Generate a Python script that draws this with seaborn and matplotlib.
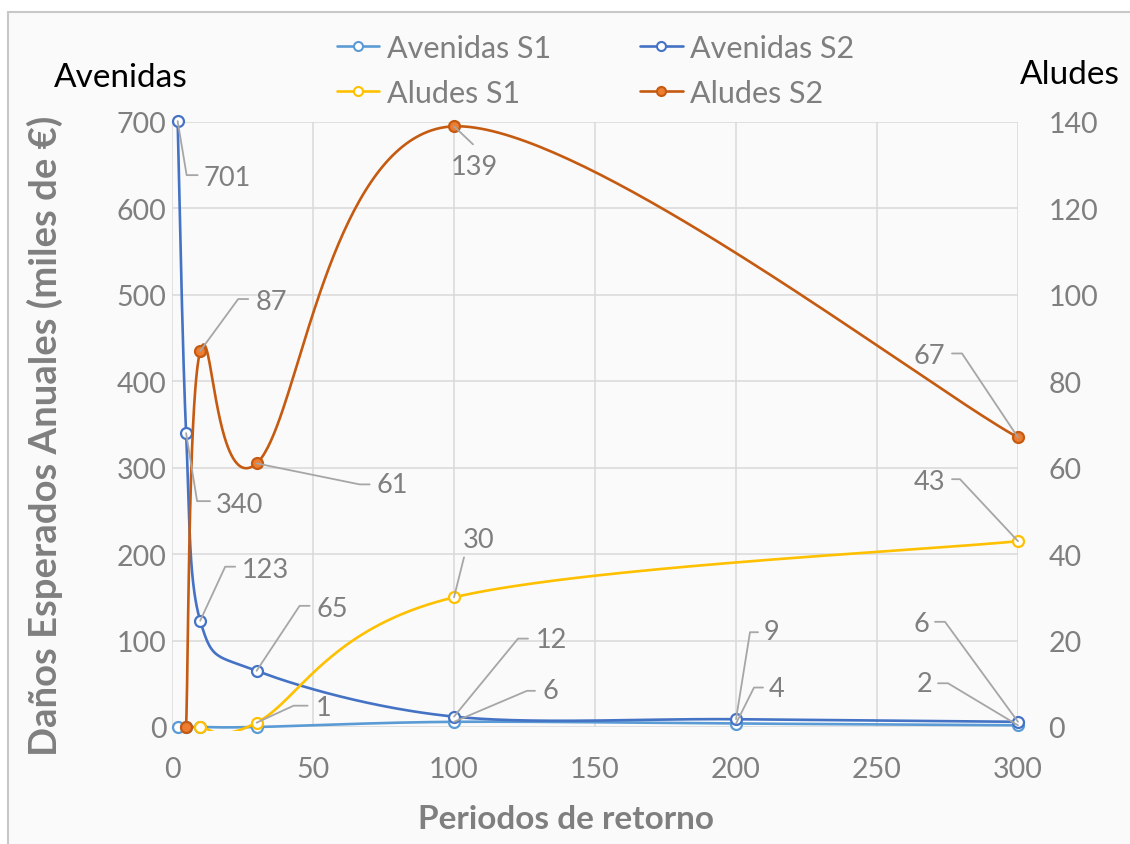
import numpy as np
import matplotlib
matplotlib.use("Agg")
import matplotlib.pyplot as plt
from matplotlib.lines import Line2D
from matplotlib.patches import Rectangle
import seaborn as sns

# Return periods (years) and expected annual damages (thousands of EUR)
ret_av = [2, 5, 10, 30, 100, 200, 300]
avenidas_s1 = [0, 0, 0, 0, 6, 4, 2]
avenidas_s2 = [701, 340, 123, 65, 12, 9, 6]
ret_al_s1 = [10, 30, 100, 300]
aludes_s1 = [0, 1, 30, 43]
ret_al_s2 = [5, 10, 30, 100, 300]
aludes_s2 = [0, 87, 61, 139, 67]

x_ticks = [0, 50, 100, 150, 200, 250, 300]
left_ticks = [0, 100, 200, 300, 400, 500, 600, 700]
right_ticks = [0, 20, 40, 60, 80, 100, 120, 140]

legend_labels = ["Avenidas S1", "Avenidas S2", "Aludes S1", "Aludes S2"]

C_AV1 = "#5B9BD5"
C_AV2 = "#4472C4"
C_AL1 = "#FFC000"
C_AL2 = "#C55A11"
C_AL2_FILL = "#ED7D31"
GRAY = "#7F7F7F"
GRID = "#D9D9D9"

sns.set_theme(style="white")
plt.rcParams["font.family"] = ["Lato", "DejaVu Sans"]

W, H = 1130, 845
fig = plt.figure(figsize=(W / 100, H / 100), dpi=100, facecolor="white")

# chart frame
fig.add_artist(Rectangle((8 / W, -0.1), 1.2, (H - 13) / H + 0.1,
                         transform=fig.transFigure, facecolor="#FAFAFA",
                         edgecolor="#C8C8C8", lw=1.5, zorder=-10))

ax_l, ax_r, ax_top, ax_bot = 172, 1018, 123, 728
ax_w, ax_h = ax_r - ax_l, ax_bot - ax_top
ax = fig.add_axes([ax_l / W, (H - ax_bot) / H, ax_w / W, ax_h / H])
ax.set_facecolor("none")
ax2 = ax.twinx()
ax2.set_facecolor("none")

XMAX, YMAX_L, YMAX_R = 300, 700, 140
ax.set_xlim(0, XMAX)
ax.set_ylim(0, YMAX_L)
ax2.set_ylim(0, YMAX_R)


def smooth(xs, ys, ymax, n=80):
    """Bezier smoothing (Catmull-Rom control points) in screen space."""
    P = np.column_stack([np.asarray(xs, float) / XMAX * ax_w,
                         np.asarray(ys, float) / ymax * ax_h])
    pts = [P[0]]
    t = np.linspace(0, 1, n)[1:, None]
    for i in range(len(P) - 1):
        p0 = P[i - 1] if i > 0 else P[i]
        p1, p2 = P[i], P[i + 1]
        p3 = P[i + 2] if i + 2 < len(P) else P[i + 1]
        c1 = p1 + (p2 - p0) / 6
        c2 = p2 - (p3 - p1) / 6
        seg = ((1 - t) ** 3) * p1 + 3 * ((1 - t) ** 2) * t * c1 \
            + 3 * (1 - t) * t ** 2 * c2 + t ** 3 * p2
        pts.extend(seg)
    pts = np.array(pts)
    return pts[:, 0] * XMAX / ax_w, pts[:, 1] * ymax / ax_h


series = [
    (ax, ret_av, avenidas_s1, YMAX_L, C_AV1, "white", C_AV1),
    (ax, ret_av, avenidas_s2, YMAX_L, C_AV2, "white", C_AV2),
    (ax2, ret_al_s1, aludes_s1, YMAX_R, C_AL1, "white", C_AL1),
    (ax2, ret_al_s2, aludes_s2, YMAX_R, C_AL2, C_AL2_FILL, C_AL2),
]
mx, my = 2.5 / ax_w, 3.5 / ax_h
for a, xs, ys, ymax, lc, fc, ec in series:
    sx, sy = smooth(xs, ys, ymax)
    sns.lineplot(x=sx, y=sy, ax=a, color=lc, lw=1.9, sort=False,
                 estimator=None, zorder=3)
    # clip the curve to the plot area, with a small margin for the line width
    clip = Rectangle((-mx, -my), 1 + 2 * mx, 1 + 2 * my, transform=a.transAxes)
    a.lines[-1].set_clip_path(clip)
    sns.scatterplot(x=xs, y=ys, ax=a, color=fc, edgecolor=ec, linewidth=1.6,
                    s=62, zorder=4, marker="o", clip_on=False)

# grid and axes styling
ax.set_xticks(x_ticks)
ax.set_yticks(left_ticks)
ax2.set_yticks(right_ticks)
ax.grid(True, color=GRID, lw=1.1)
ax2.grid(False)
for a in (ax, ax2):
    for s in a.spines.values():
        s.set_visible(False)
    a.set_xlabel("")
    a.set_ylabel("")
ax.tick_params(axis="x", length=0, pad=21, labelsize=20.5, labelcolor=GRAY)
ax.tick_params(axis="y", length=0, pad=4, labelsize=20.5, labelcolor=GRAY)
ax2.tick_params(axis="y", length=0, pad=22, labelsize=20.5, labelcolor=GRAY)

# titles and axis labels
fig.text(566 / W, 1 - 820 / H, "Periodos de retorno", ha="center", va="center",
         fontsize=24, fontweight="bold", color=GRAY)
fig.text(45 / W, 1 - 436 / H, "Daños Esperados Anuales (miles de €)",
         rotation=90, ha="center", va="center", fontsize=27.5,
         fontweight="bold", color=GRAY)
fig.text(121 / W, 1 - 78 / H, "Avenidas", ha="center", va="center",
         fontsize=24, color="black")
fig.text(1070 / W, 1 - 75 / H, "Aludes", ha="center", va="center",
         fontsize=24, color="black")

# legend
handles = [
    Line2D([], [], color=C_AV1, lw=1.9, marker="o", ms=6.5, mfc="white", mec=C_AV1, mew=1.5),
    Line2D([], [], color=C_AV2, lw=1.9, marker="o", ms=6.5, mfc="white", mec=C_AV2, mew=1.5),
    Line2D([], [], color=C_AL1, lw=1.9, marker="o", ms=6.5, mfc="white", mec=C_AL1, mew=1.5),
    Line2D([], [], color=C_AL2, lw=1.9, marker="o", ms=6.5, mfc=C_AL2_FILL, mec=C_AL2, mew=1.5),
]
order = [0, 2, 1, 3]
fig.legend([handles[i] for i in order], [legend_labels[i] for i in order],
           loc="upper center", bbox_to_anchor=(0.527, 1 - 7 / H), ncol=2,
           frameon=False, fontsize=22, labelcolor=GRAY, handlelength=1.4,
           handletextpad=0.25, columnspacing=2.9, labelspacing=0.57)

# data labels with leader lines: (axis, x, value, elbow dx, elbow dy, horiz end dx,
# text dx, text dy, alignment)  offsets in pixels, up is positive
labels = [
    (ax, 2, 701, 9, -54, 20, 26, -56, "left"),
    (ax, 5, 340, 11, -68, 24, 30, -71, "left"),
    (ax, 10, 123, 25, 54, 35, 42, 51, "left"),
    (ax, 30, 65, 43, 65, 53, 60, 62, "left"),
    (ax2, 10, 87, 38, 52, 48, 55, 50, "left"),
    (ax2, 30, 61, 103, -21, 113, 120, -21, "left"),
    (ax2, 100, 139, 19, -18, 19, 20, -40, "center"),
    (ax2, 100, 30, 10, 40, 10, 25, 58, "center"),
    (ax2, 30, 1, 37, 17, 51, 59, 15, "left"),
    (ax, 100, 12, 64, 78, 74, 82, 77, "left"),
    (ax, 100, 6, 73, 31, 81, 88, 31, "left"),
    (ax, 200, 9, 14, 87, 22, 28, 88, "left"),
    (ax, 200, 4, 18, 36, 27, 33, 35, "left"),
    (ax, 300, 6, -73, 100, -83, -89, 98, "right"),
    (ax, 300, 2, -70, 42, -80, -86, 42, "right"),
    (ax2, 300, 43, -58, 62, -66, -73, 60, "right"),
    (ax2, 300, 67, -56, 84, -66, -73, 82, "right"),
]
inv = fig.transFigure.inverted()
for a, x, v, ex, ey, hx, tx, ty, ha in labels:
    px, py = a.transData.transform((x, v))
    path = np.array([[px, py], [px + ex, py + ey], [px + hx, py + ey]])
    fpath = inv.transform(path)
    fig.add_artist(Line2D(fpath[:, 0], fpath[:, 1], color="#A6A6A6", lw=1.3,
                          transform=fig.transFigure, zorder=5))
    tpos = inv.transform((px + tx, py + ty))
    fig.text(tpos[0], tpos[1], f"{v}", ha=ha, va="center", fontsize=19.5,
             color=GRAY, zorder=6)

fig.savefig("out.png", dpi=100)
